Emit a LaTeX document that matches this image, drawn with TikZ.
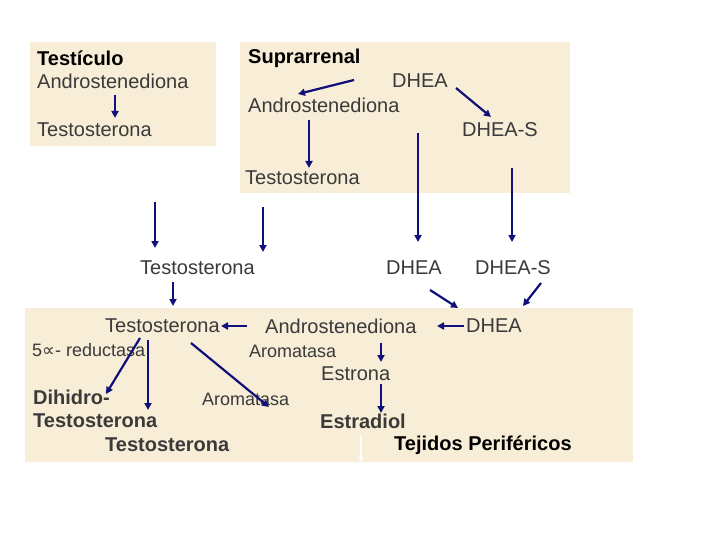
\documentclass[tikz,border=0pt]{standalone}
\usepackage{fontspec}
\setmainfont{Liberation Sans}
\newfontfamily\djv{DejaVu Sans}
\usetikzlibrary{arrows.meta}
\begin{document}
\begin{tikzpicture}[x=1pt,y=-1pt,
  t/.style={anchor=west,inner sep=0pt,text=txt,font=\fontsize{20}{22}\selectfont},
  tb/.style={t,font=\fontsize{20}{22}\selectfont\bfseries},
  ts/.style={t,font=\fontsize{18}{20}\selectfont},
  ar/.style={draw=navy,line width=2.2pt,-{Triangle[length=7pt,width=7pt]}},
  arthin/.style={ar,line width=1.6pt}]
\definecolor{beige}{HTML}{F8EDD6}
\definecolor{txt}{HTML}{3A3A3A}
\definecolor{navy}{HTML}{10107A}
\useasboundingbox (0,0) rectangle (720,540);
\fill[white] (0,0) rectangle (720,540);
\fill[beige] (30,42) rectangle (216,146);
\fill[beige] (240,42) rectangle (570,193);
\fill[beige] (25,308) rectangle (633,462);
% texts
\node[tb,text=black] (testiculo) at (37,58) {Testículo};
\node[t] (a1) at (37,81) {Androstenediona};
\node[t] (t1) at (37,130) {Testosterona};
\node[tb,text=black] (supra) at (248,58) {Suprarrenal};
\node[t] (d1) at (392,81) {DHEA};
\node[t] (a2) at (248,105) {Androstenediona};
\node[t] (ds1) at (462,130) {DHEA-S};
\node[t] (t2) at (245,178) {Testosterona};
\node[t] (t3) at (140,268) {Testosterona};
\node[t] (d2) at (386,268) {DHEA};
\node[t] (ds2) at (475,268) {DHEA-S};
\node[t] (t4) at (105,326) {Testosterona};
\node[t] (a3) at (265,326) {Androstenediona};
\node[t] (d3) at (466,326) {DHEA};
\node[ts] (red) at (32,350) {5{\djv ∝}- reductasa};
\node[ts] (arom1) at (249,351) {Aromatasa};
\node[t] (estrona) at (321,374) {Estrona};
\node[tb] (dihidro) at (33,397) {Dihidro-};
\node[ts] (arom2) at (202,399) {Aromatasa};
\node[tb] (dht) at (33,421) {Testosterona};
\node[tb] (estradiol) at (320,421) {Estradiol};
\node[tb] (t5) at (105,445) {Testosterona};
\node[tb,text=black] (tej) at (394,445) {Tejidos Periféricos};
% arrow endpoints
\coordinate (p1) at (115,95); \coordinate (q1) at (115,118);
\coordinate (p2) at (354,80); \coordinate (q2) at (298,94);
\coordinate (p3) at (456,88); \coordinate (q3) at (491,117);
\coordinate (p4) at (309,120); \coordinate (q4) at (309,168);
\coordinate (p5) at (155,202); \coordinate (q5) at (155,248);
\coordinate (p6) at (263,207); \coordinate (q6) at (263,252);
\coordinate (p7) at (418,133); \coordinate (q7) at (418,242);
\coordinate (p8) at (512,168); \coordinate (q8) at (512,242);
\coordinate (p9) at (173,282); \coordinate (q9) at (173,306);
\coordinate (p10) at (430,290); \coordinate (q10) at (458,308);
\coordinate (p11) at (541,283); \coordinate (q11) at (523,306);
\coordinate (p12) at (247,326); \coordinate (q12) at (221,326);
\coordinate (p13) at (464,326); \coordinate (q13) at (437,326);
\coordinate (p14) at (140,338); \coordinate (q14) at (106,394);
\coordinate (p15) at (148,340); \coordinate (q15) at (148,410);
\coordinate (p16) at (191,343); \coordinate (q16) at (269,407);
\coordinate (p17) at (381,343); \coordinate (q17) at (381,362);
\coordinate (p18) at (381,384); \coordinate (q18) at (381,413);
\coordinate (p19) at (361,436); \coordinate (q19) at (361,462);
\foreach \i in {1,2,3,4,5,6,7,9,10,11,12,13,14,15,16,17,18}{\draw[ar] (p\i) -- (q\i);}
\draw[arthin] (p8) -- (q8);
\draw[draw=white,line width=1.5pt,-{Triangle[length=5pt,width=5pt]}] (p19) -- (q19);
\end{tikzpicture}
\end{document}
